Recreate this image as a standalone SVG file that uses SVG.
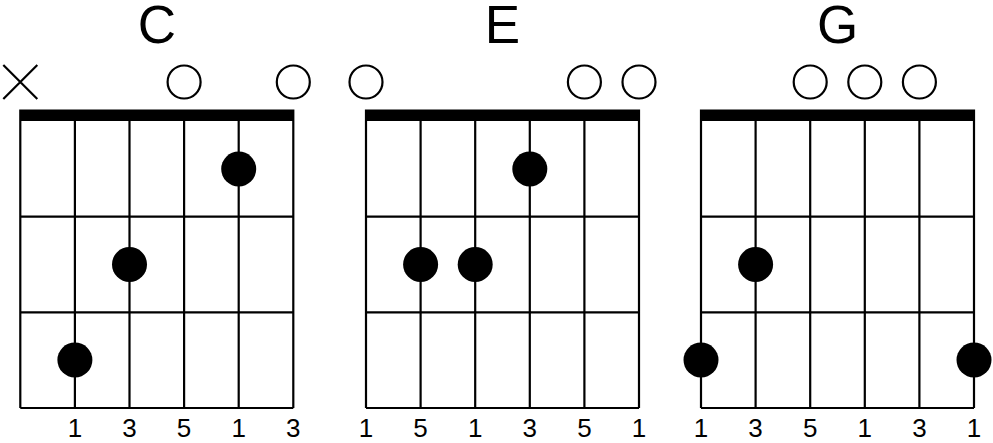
<svg xmlns="http://www.w3.org/2000/svg" width="993" height="443" viewBox="0 0 993 443">
<style>
.s{stroke:#000;stroke-width:2.2;fill:none}
.nut{fill:#000}
.o{fill:none;stroke:#000;stroke-width:2.2}
.d{fill:#000}
.t{font-family:"Liberation Sans",Arial,sans-serif;font-size:53px;text-anchor:middle;fill:#000}
.n{font-family:"Liberation Sans",Arial,sans-serif;font-size:26px;text-anchor:middle;fill:#000}
</style>
<defs>
<g id="grid">
<path class="s" d="M0 121V408M54.6 121V408M109.2 121V408M163.8 121V408M218.4 121V408M273 121V408M0 216.7H273M0 312.3H273M0 408H273"/>
<rect class="nut" x="-1.1" y="109.5" width="275.2" height="11.5"/>
</g>
</defs>
<g id="chord-C" transform="translate(20.3,0)">
<use href="#grid"/>
<text class="t" x="136.5" y="43">C</text>
<path class="s" d="M-17 65L17 99M-17 99L17 65"/>
<circle class="o" cx="163.8" cy="82" r="16.5"/>
<circle class="o" cx="273" cy="82" r="16.5"/>
<circle class="d" cx="218.4" cy="169" r="17.5"/>
<circle class="d" cx="109.2" cy="264.5" r="17.5"/>
<circle class="d" cx="54.6" cy="360" r="17.5"/>
<text class="n" x="54.6" y="437">1</text>
<text class="n" x="109.2" y="437">3</text>
<text class="n" x="163.8" y="437">5</text>
<text class="n" x="218.4" y="437">1</text>
<text class="n" x="273" y="437">3</text>
</g>
<g id="chord-E" transform="translate(366,0)">
<use href="#grid"/>
<text class="t" x="136.5" y="43">E</text>
<circle class="o" cx="0" cy="82" r="16.5"/>
<circle class="o" cx="218.4" cy="82" r="16.5"/>
<circle class="o" cx="273" cy="82" r="16.5"/>
<circle class="d" cx="163.8" cy="169" r="17.5"/>
<circle class="d" cx="54.6" cy="264.5" r="17.5"/>
<circle class="d" cx="109.2" cy="264.5" r="17.5"/>
<text class="n" x="0" y="437">1</text>
<text class="n" x="54.6" y="437">5</text>
<text class="n" x="109.2" y="437">1</text>
<text class="n" x="163.8" y="437">3</text>
<text class="n" x="218.4" y="437">5</text>
<text class="n" x="273" y="437">1</text>
</g>
<g id="chord-G" transform="translate(701,0)">
<use href="#grid"/>
<text class="t" x="136.5" y="43">G</text>
<circle class="o" cx="109.2" cy="82" r="16.5"/>
<circle class="o" cx="163.8" cy="82" r="16.5"/>
<circle class="o" cx="218.4" cy="82" r="16.5"/>
<circle class="d" cx="54.6" cy="264.5" r="17.5"/>
<circle class="d" cx="0" cy="360" r="17.5"/>
<circle class="d" cx="273" cy="360" r="17.5"/>
<text class="n" x="0" y="437">1</text>
<text class="n" x="54.6" y="437">3</text>
<text class="n" x="109.2" y="437">5</text>
<text class="n" x="163.8" y="437">1</text>
<text class="n" x="218.4" y="437">3</text>
<text class="n" x="273" y="437">1</text>
</g>
<g id="connectors"/>
</svg>
